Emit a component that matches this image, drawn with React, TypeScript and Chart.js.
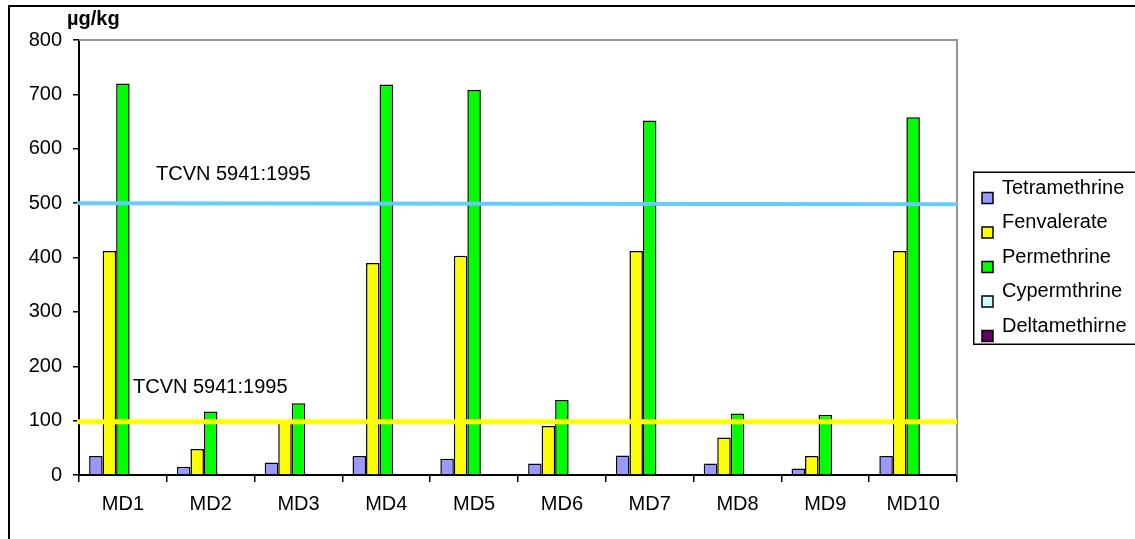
import React, { useEffect, useRef } from 'react';
import { Chart, registerables } from 'chart.js';

Chart.register(...registerables);

const categories = ['MD1', 'MD2', 'MD3', 'MD4', 'MD5', 'MD6', 'MD7', 'MD8', 'MD9', 'MD10'];
const seriesNames = ['Tetramethrine', 'Fenvalerate', 'Permethrine', 'Cypermthrine', 'Deltamethirne'];
const tetramethrine = [35, 15, 23, 35, 30, 21, 36, 21, 12, 35];
const fenvalerate = [412, 48, 97, 390, 403, 90, 412, 69, 35, 412];
const permethrine = [720, 117, 132, 718, 708, 138, 652, 113, 111, 658];
const cypermthrine = [0, 0, 0, 0, 0, 0, 0, 0, 0, 0];
const deltamethirne = [0, 0, 0, 0, 0, 0, 0, 0, 0, 0];
const seriesColors = ['#9999FF', '#FFFF00', '#00FF00', '#CCFFFF', '#660066'];
const yMin = 0;
const yMax = 800;
const yStep = 100;
const upperLimit = [500, 498];
const lowerLimit = [98, 98];
const limitLabel = 'TCVN 5941:1995';
const unitLabel = 'µg/kg';

const FONT = "'Liberation Sans', Arial, sans-serif";

export default function App() {
  const ref = useRef<HTMLCanvasElement | null>(null);

  useEffect(() => {
    const canvas = ref.current;
    if (!canvas) return;
    const allSeries = [tetramethrine, fenvalerate, permethrine, cypermthrine, deltamethirne];

    const decor = {
      id: 'decor',
      beforeDraw(chart: any) {
        const ctx = chart.ctx;
        ctx.save();
        ctx.fillStyle = '#ffffff';
        ctx.fillRect(0, 0, chart.width, chart.height);
        ctx.strokeStyle = '#000';
        ctx.lineWidth = 2;
        ctx.beginPath();
        ctx.moveTo(9, chart.height + 5);
        ctx.lineTo(9, 6);
        ctx.lineTo(chart.width + 5, 6);
        ctx.stroke();
        ctx.restore();
      },
      beforeDatasetsDraw(chart: any) {
        const ctx = chart.ctx;
        const a = chart.chartArea;
        ctx.save();
        ctx.strokeStyle = '#969696';
        ctx.lineWidth = 2;
        ctx.beginPath();
        ctx.moveTo(a.left, a.top);
        ctx.lineTo(a.right, a.top);
        ctx.lineTo(a.right, a.bottom);
        ctx.stroke();
        ctx.restore();
      },
      afterDatasetsDraw(chart: any) {
        const ctx = chart.ctx;
        const a = chart.chartArea;
        const y = chart.scales.y;
        ctx.save();
        const drawLimit = (vals: number[], color: string, w: number) => {
          ctx.strokeStyle = color;
          ctx.lineWidth = w;
          ctx.beginPath();
          ctx.moveTo(a.left - 2, y.getPixelForValue(vals[0]));
          ctx.lineTo(a.right, y.getPixelForValue(vals[1]));
          ctx.stroke();
        };
        drawLimit(upperLimit, '#66CCFF', 4);
        drawLimit(lowerLimit, '#FFFF00', 5);

        ctx.fillStyle = '#000';
        ctx.font = `20px ${FONT}`;
        ctx.textAlign = 'left';
        ctx.textBaseline = 'alphabetic';
        ctx.fillText(limitLabel, a.left + 77, y.getPixelForValue(upperLimit[0]) - 23);
        ctx.fillText(limitLabel, a.left + 54, y.getPixelForValue(lowerLimit[0]) - 29);

        ctx.font = `bold 20px ${FONT}`;
        ctx.fillText(unitLabel, a.left - 12, a.top - 15);

        // legend
        const boxLeft = a.right + 16;
        const boxTop = (a.top + a.bottom) / 2 - 86;
        const boxH = 172;
        ctx.strokeStyle = '#000';
        ctx.lineWidth = 1.5;
        ctx.strokeRect(boxLeft + 0.75, boxTop + 0.75, 300, boxH);
        ctx.font = `20px ${FONT}`;
        seriesNames.forEach((name, i) => {
          const base = boxTop + 22 + i * 34.5;
          ctx.fillStyle = '#000';
          ctx.fillText(name, boxLeft + 29, base);
          ctx.fillStyle = seriesColors[i];
          ctx.fillRect(boxLeft + 9, base - 1, 11, 11);
          ctx.strokeStyle = '#000';
          ctx.lineWidth = 1.5;
          ctx.strokeRect(boxLeft + 9, base - 1, 11, 11);
        });
        ctx.restore();
      },
    };

    const chart = new Chart(canvas, {
      type: 'bar',
      data: {
        labels: categories,
        datasets: seriesNames.map((name, i) => ({
          label: name,
          data: allSeries[i],
          backgroundColor: seriesColors[i],
          borderColor: '#000000',
          borderWidth: 1.5,
          categoryPercentage: 5 / 6.5,
          barPercentage: 1,
        })),
      },
      options: {
        responsive: false,
        animation: false,
        events: [],
        layout: { padding: { left: 0, top: 40, right: 178, bottom: 0 } },
        plugins: {
          legend: { display: false },
          tooltip: { enabled: false },
          title: { display: false },
        },
        scales: {
          x: {
            afterFit: (s: any) => { s.height = 64; },
            grid: {
              drawOnChartArea: false,
              drawTicks: true,
              tickLength: 7,
              color: '#000',
              lineWidth: 1.5,
              offset: true,
            },
            border: { display: true, color: '#000', width: 2 },
            ticks: {
              color: '#000',
              font: { family: FONT, size: 20 },
              padding: 10,
              maxRotation: 0,
            },
          },
          y: {
            min: yMin,
            max: yMax,
            afterFit: (s: any) => { s.width = 79; },
            grid: {
              drawOnChartArea: false,
              drawTicks: true,
              tickLength: 6,
              color: '#000',
              lineWidth: 1.5,
            },
            border: { display: true, color: '#000', width: 2 },
            ticks: {
              stepSize: yStep,
              color: '#000',
              font: { family: FONT, size: 20 },
              padding: 11,
            },
          },
        },
      },
      plugins: [decor],
    });
    return () => chart.destroy();
  }, []);

  return (
    <div style={{ position: 'absolute', left: 0, top: 0, width: 1135, height: 539, background: '#fff' }}>
      <canvas ref={ref} width={1135} height={539} style={{ display: 'block' }} />
    </div>
  );
}
